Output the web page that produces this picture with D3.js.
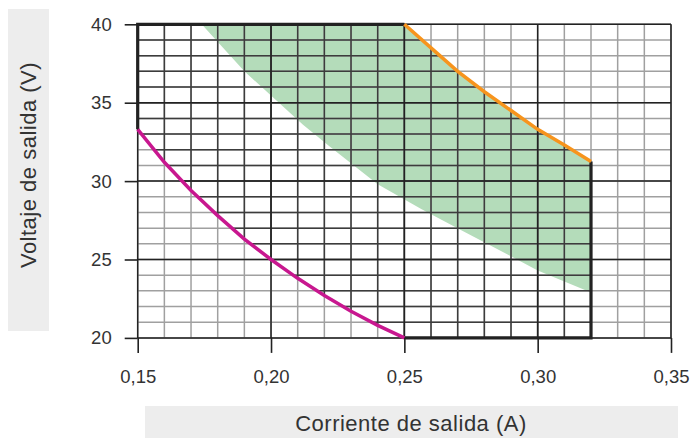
<!DOCTYPE html>
<html lang="es">
    <head>
        <meta charset="UTF-8" />
        <title>Voltaje vs corriente de salida</title>
        <script src="https://cdn.jsdelivr.net/npm/d3@7"></script>
        <style>
            body { margin: 0; background: #fff; }
            text { font-family: "Liberation Sans", Arial, sans-serif; fill: #333; }
        </style>
    </head>
  <body>
  <svg id="chart"></svg>

  <script>

    // tick labels
    const xTicks = [0.15, 0.20, 0.25, 0.30, 0.35];
    const yTicks = [20, 25, 30, 35, 40];

    // lower power limit (magenta)
    const minPowerI = [0.15, 0.16, 0.17, 0.18, 0.19, 0.20, 0.21, 0.22, 0.23, 0.24, 0.25];
    const minPowerV = [33.3, 31.2, 29.4, 27.8, 26.3, 25.0, 23.8, 22.7, 21.7, 20.8, 20.0];

    // upper power limit (orange)
    const maxPowerI = [0.25, 0.26, 0.27, 0.28, 0.29, 0.30, 0.31, 0.32];
    const maxPowerV = [40.0, 38.5, 37.0, 35.7, 34.5, 33.3, 32.3, 31.25];

    // lower edge of the green band
    const bandI = [0.174, 0.19, 0.212, 0.222, 0.24, 0.2565, 0.271, 0.29, 0.30, 0.32];
    const bandV = [40.0, 37.0, 33.6, 32.2, 29.8, 28.2, 26.9, 25.2, 24.3, 22.9];

    const width = 693, height = 438;
    const x = d3.scaleLinear().domain([0.15, 0.35]).range([137.7, 671]);
    const y = d3.scaleLinear().domain([20, 40]).range([337.9, 24.3]);

    const svg = d3.select('#chart')
        .attr('width', width)
        .attr('height', height);

    const zip = (xs, ys) => xs.map((v, i) => [v, ys[i]]);
    const minCurve = zip(minPowerI, minPowerV);
    const maxCurve = zip(maxPowerI, maxPowerV);
    const band = zip(bandI, bandV);

    const line = d3.line().x(d => x(d[0])).y(d => y(d[1]));

    // operating region: top edge, orange, right edge, bottom, magenta back up
    const region = [[0.15, 40]]
        .concat(maxCurve)
        .concat([[0.32, 20]])
        .concat(minCurve.slice().reverse());

    const greenArea = band
        .concat(maxCurve.slice().reverse());

    // axis title boxes
    svg.append('rect')
        .attr('x', 8).attr('y', 9)
        .attr('width', 41).attr('height', 322)
        .attr('fill', '#ededed');
    svg.append('rect')
        .attr('x', 145).attr('y', 406)
        .attr('width', 533).attr('height', 32)
        .attr('fill', '#ededed');

    svg.append('path')
        .attr('d', line(greenArea) + 'Z')
        .attr('fill', '#b4dcba');

    const xMinor = x.ticks(20);
    const yMinor = y.ticks(20);

    const grid = (g, color, w) => {
        g.selectAll('.v').data(xMinor).enter().append('line')
            .attr('x1', d => x(d)).attr('x2', d => x(d))
            .attr('y1', y(20)).attr('y2', y(40))
            .attr('stroke', color).attr('stroke-width', w);
        g.selectAll('.h').data(yMinor).enter().append('line')
            .attr('x1', x(0.15)).attr('x2', x(0.35))
            .attr('y1', d => y(d)).attr('y2', d => y(d))
            .attr('stroke', color).attr('stroke-width', w);
    };

    grid(svg.append('g'), '#a0a0a0', 1.5);

    svg.append('clipPath').attr('id', 'region')
        .append('path').attr('d', line(region) + 'Z');
    grid(svg.append('g').attr('clip-path', 'url(#region)'), '#3c3c3c', 1.5);

    // major lines
    const major = svg.append('g');
    major.selectAll('.v').data(xTicks).enter().append('line')
        .attr('x1', d => x(d)).attr('x2', d => x(d))
        .attr('y1', y(20)).attr('y2', y(40))
        .attr('stroke', '#222').attr('stroke-width', 1.5);
    major.selectAll('.h').data(yTicks).enter().append('line')
        .attr('x1', x(0.15)).attr('x2', x(0.35))
        .attr('y1', d => y(d)).attr('y2', d => y(d))
        .attr('stroke', '#222').attr('stroke-width', 1.5);

    // straight edges of the operating region
    const edges = [
        [[0.15, minPowerV[0]], [0.15, 40], [0.25, 40]],
        [[0.25, 20], [0.32, 20], [0.32, maxPowerV[maxPowerV.length - 1]]]
    ];
    svg.selectAll('.edge').data(edges).enter().append('path')
        .attr('d', line)
        .attr('fill', 'none')
        .attr('stroke', '#222')
        .attr('stroke-width', 3.2);

    svg.append('path')
        .attr('d', line(minCurve))
        .attr('fill', 'none')
        .attr('stroke', '#c8178f')
        .attr('stroke-width', 3.5);

    svg.append('path')
        .attr('d', line(maxCurve))
        .attr('fill', 'none')
        .attr('stroke', '#f7941d')
        .attr('stroke-width', 3.5);

    // axes
    const xAxis = svg.append('g')
        .attr('transform', `translate(0, ${y(20)})`)
        .call(d3.axisBottom(x).tickValues(xTicks)
            .tickSize(15).tickPadding(17)
            .tickFormat(d => d3.format('.2f')(d).replace('.', ',')));

    const yAxis = svg.append('g')
        .attr('transform', `translate(${x(0.15)}, 0)`)
        .call(d3.axisLeft(y).tickValues(yTicks)
            .tickSize(13).tickPadding(13));

    [xAxis, yAxis].forEach(a => {
        a.select('.domain').remove();
        a.selectAll('.tick line').attr('stroke', '#222').attr('stroke-width', 1.6);
        a.selectAll('.tick text')
            .attr('font-size', 18.5)
            .attr('fill', '#3a3a3a');
    });

    svg.append('text')
        .attr('x', 411).attr('y', 431)
        .attr('text-anchor', 'middle')
        .attr('font-size', 22)
        .attr('letter-spacing', 0.5)
        .attr('fill', '#3a3a3a')
        .text('Corriente de salida (A)');

    svg.append('text')
        .attr('transform', 'translate(36, 165) rotate(-90)')
        .attr('text-anchor', 'middle')
        .attr('font-size', 22)
        .attr('letter-spacing', 0.5)
        .attr('fill', '#3a3a3a')
        .text('Voltaje de salida (V)');

  </script>
  </body>
</html>
